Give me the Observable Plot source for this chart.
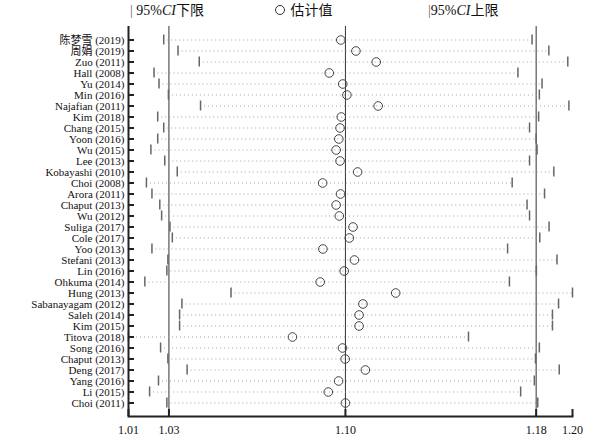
<!DOCTYPE html>
<html><head><meta charset="utf-8">
<script src="https://cdn.jsdelivr.net/npm/d3@7"></script>
<script src="https://cdn.jsdelivr.net/npm/@observablehq/plot@0.6"></script>
<style>
body{margin:0;background:#fff;font-family:"Liberation Serif","Noto Sans CJK SC",serif;}
#legend{position:relative;height:22px;width:610px;font-size:14px;color:#111;}
#legend .item{position:absolute;top:3px;white-space:nowrap;line-height:16px;}
#legend .bar{color:#666;}
#legend .circ{display:inline-block;width:8px;height:8px;border:1px solid #333;border-radius:50%;margin-right:2px;vertical-align:0px;}
</style></head><body>
<div id="legend">
<span class="item" style="left:130px"><span class="bar">|</span> 95%<i>CI</i>下限</span>
<span class="item" style="left:275px"><span class="circ"></span> 估计值</span>
<span class="item" style="left:428px"><span class="bar">|</span>95%<i>CI</i>上限</span>
</div>
<div id="chart"></div>
<script>
const studies = ["陈梦雪 (2019)","周娟 (2019)","Zuo (2011)","Hall (2008)","Yu (2014)","Min (2016)","Najafian (2011)","Kim (2018)","Chang (2015)","Yoon (2016)","Wu (2015)","Lee (2013)","Kobayashi (2010)","Choi (2008)","Arora (2011)","Chaput (2013)","Wu (2012)","Suliga (2017)","Cole (2017)","Yoo (2013)","Stefani (2013)","Lin (2016)","Ohkuma (2014)","Hung (2013)","Sabanayagam (2012)","Saleh (2014)","Kim (2015)","Titova (2018)","Song (2016)","Chaput (2013)","Deng (2017)","Yang (2016)","Li (2015)","Choi (2011)"];
const lower = [1.0280,1.0335,1.0417,1.0243,1.0262,1.0298,1.0422,1.0257,1.0280,1.0257,1.0231,1.0284,1.0332,1.0214,1.0235,1.0265,1.0272,1.0304,1.0313,1.0235,1.0296,1.0292,1.0208,1.0541,1.0350,1.0341,1.0341,1.0146,1.0268,1.0296,1.0370,1.0260,1.0226,1.0292];
const estimate = [1.0981,1.1043,1.1127,1.0934,1.0989,1.1006,1.1135,1.0983,1.0978,1.0973,1.0962,1.0978,1.1050,1.0907,1.0980,1.0962,1.0975,1.1031,1.1016,1.0908,1.1037,1.0995,1.0897,1.1208,1.1072,1.1056,1.1056,1.0785,1.0988,1.0999,1.1082,1.0972,1.0930,1.1000];
const upper = [1.1792,1.1866,1.1950,1.1730,1.1836,1.1824,1.1955,1.1821,1.1781,1.1810,1.1814,1.1781,1.1888,1.1705,1.1847,1.1770,1.1781,1.1867,1.1826,1.1685,1.1902,1.1811,1.1693,1.1971,1.1909,1.1882,1.1882,1.1516,1.1824,1.1807,1.1912,1.1802,1.1742,1.1817];
const overall = [1.03, 1.10, 1.181];
const tickLabels = ["1.01","1.03","1.10","1.18","1.20"];

const rows = studies.map((s, i) => ({i, s, lower: lower[i], est: estimate[i], upper: upper[i]}));
const xMin = d3.min(lower), xMax = d3.max(upper);
const tickValues = [xMin, ...overall, xMax];
const tickText = tickValues.map((v, k) => ({v, label: tickLabels[k]}));

const chart = Plot.plot({
  width: 610,
  height: 423,
  marginTop: 4,
  marginBottom: 29,
  marginLeft: 128,
  marginRight: 38,
  style: {fontFamily: '"Liberation Serif","Noto Sans CJK SC",serif', fontSize: "11px", color: "#111", background: "white"},
  x: {type: "log", domain: [xMin, xMax]},
  y: {type: "band", domain: d3.range(studies.length), paddingInner: 0, paddingOuter: 0.63},
  marks: [
    Plot.ruleX(overall, {stroke: "#333", strokeWidth: 1}),
    Plot.ruleY(rows, {y: "i", x1: "lower", x2: "upper", stroke: "#9a9a9a", strokeWidth: 0.9, strokeDasharray: "1,3"}),
    Plot.tickX(rows, {x: "lower", y: "i", stroke: "#666", strokeWidth: 1.5, insetTop: 0.5, insetBottom: 0.5}),
    Plot.tickX(rows, {x: "upper", y: "i", stroke: "#666", strokeWidth: 1.5, insetTop: 0.5, insetBottom: 0.5}),
    Plot.dot(rows, {x: "est", y: "i", r: 4.3, stroke: "#444", strokeWidth: 1, fill: "none"}),
    Plot.axisY({tickFormat: i => studies[i], tickSize: -6, tickPadding: 10, strokeWidth: 2, stroke: "#222", fontSize: 11, fill: "#111", label: null}),
    Plot.axisX({ticks: tickValues, tickFormat: () => "", tickSize: -7, strokeWidth: 2, stroke: "#222", label: null}),
    Plot.text(tickText, {x: "v", text: "label", frameAnchor: "bottom", lineAnchor: "top", dy: 9, fontSize: 12, fill: "#111"}),
    Plot.ruleX([xMin], {stroke: "#222", strokeWidth: 2}),
    Plot.frame({anchor: "bottom", stroke: "#222", strokeWidth: 2})
  ]
});
document.getElementById("chart").appendChild(chart);
</script>
</body></html>
